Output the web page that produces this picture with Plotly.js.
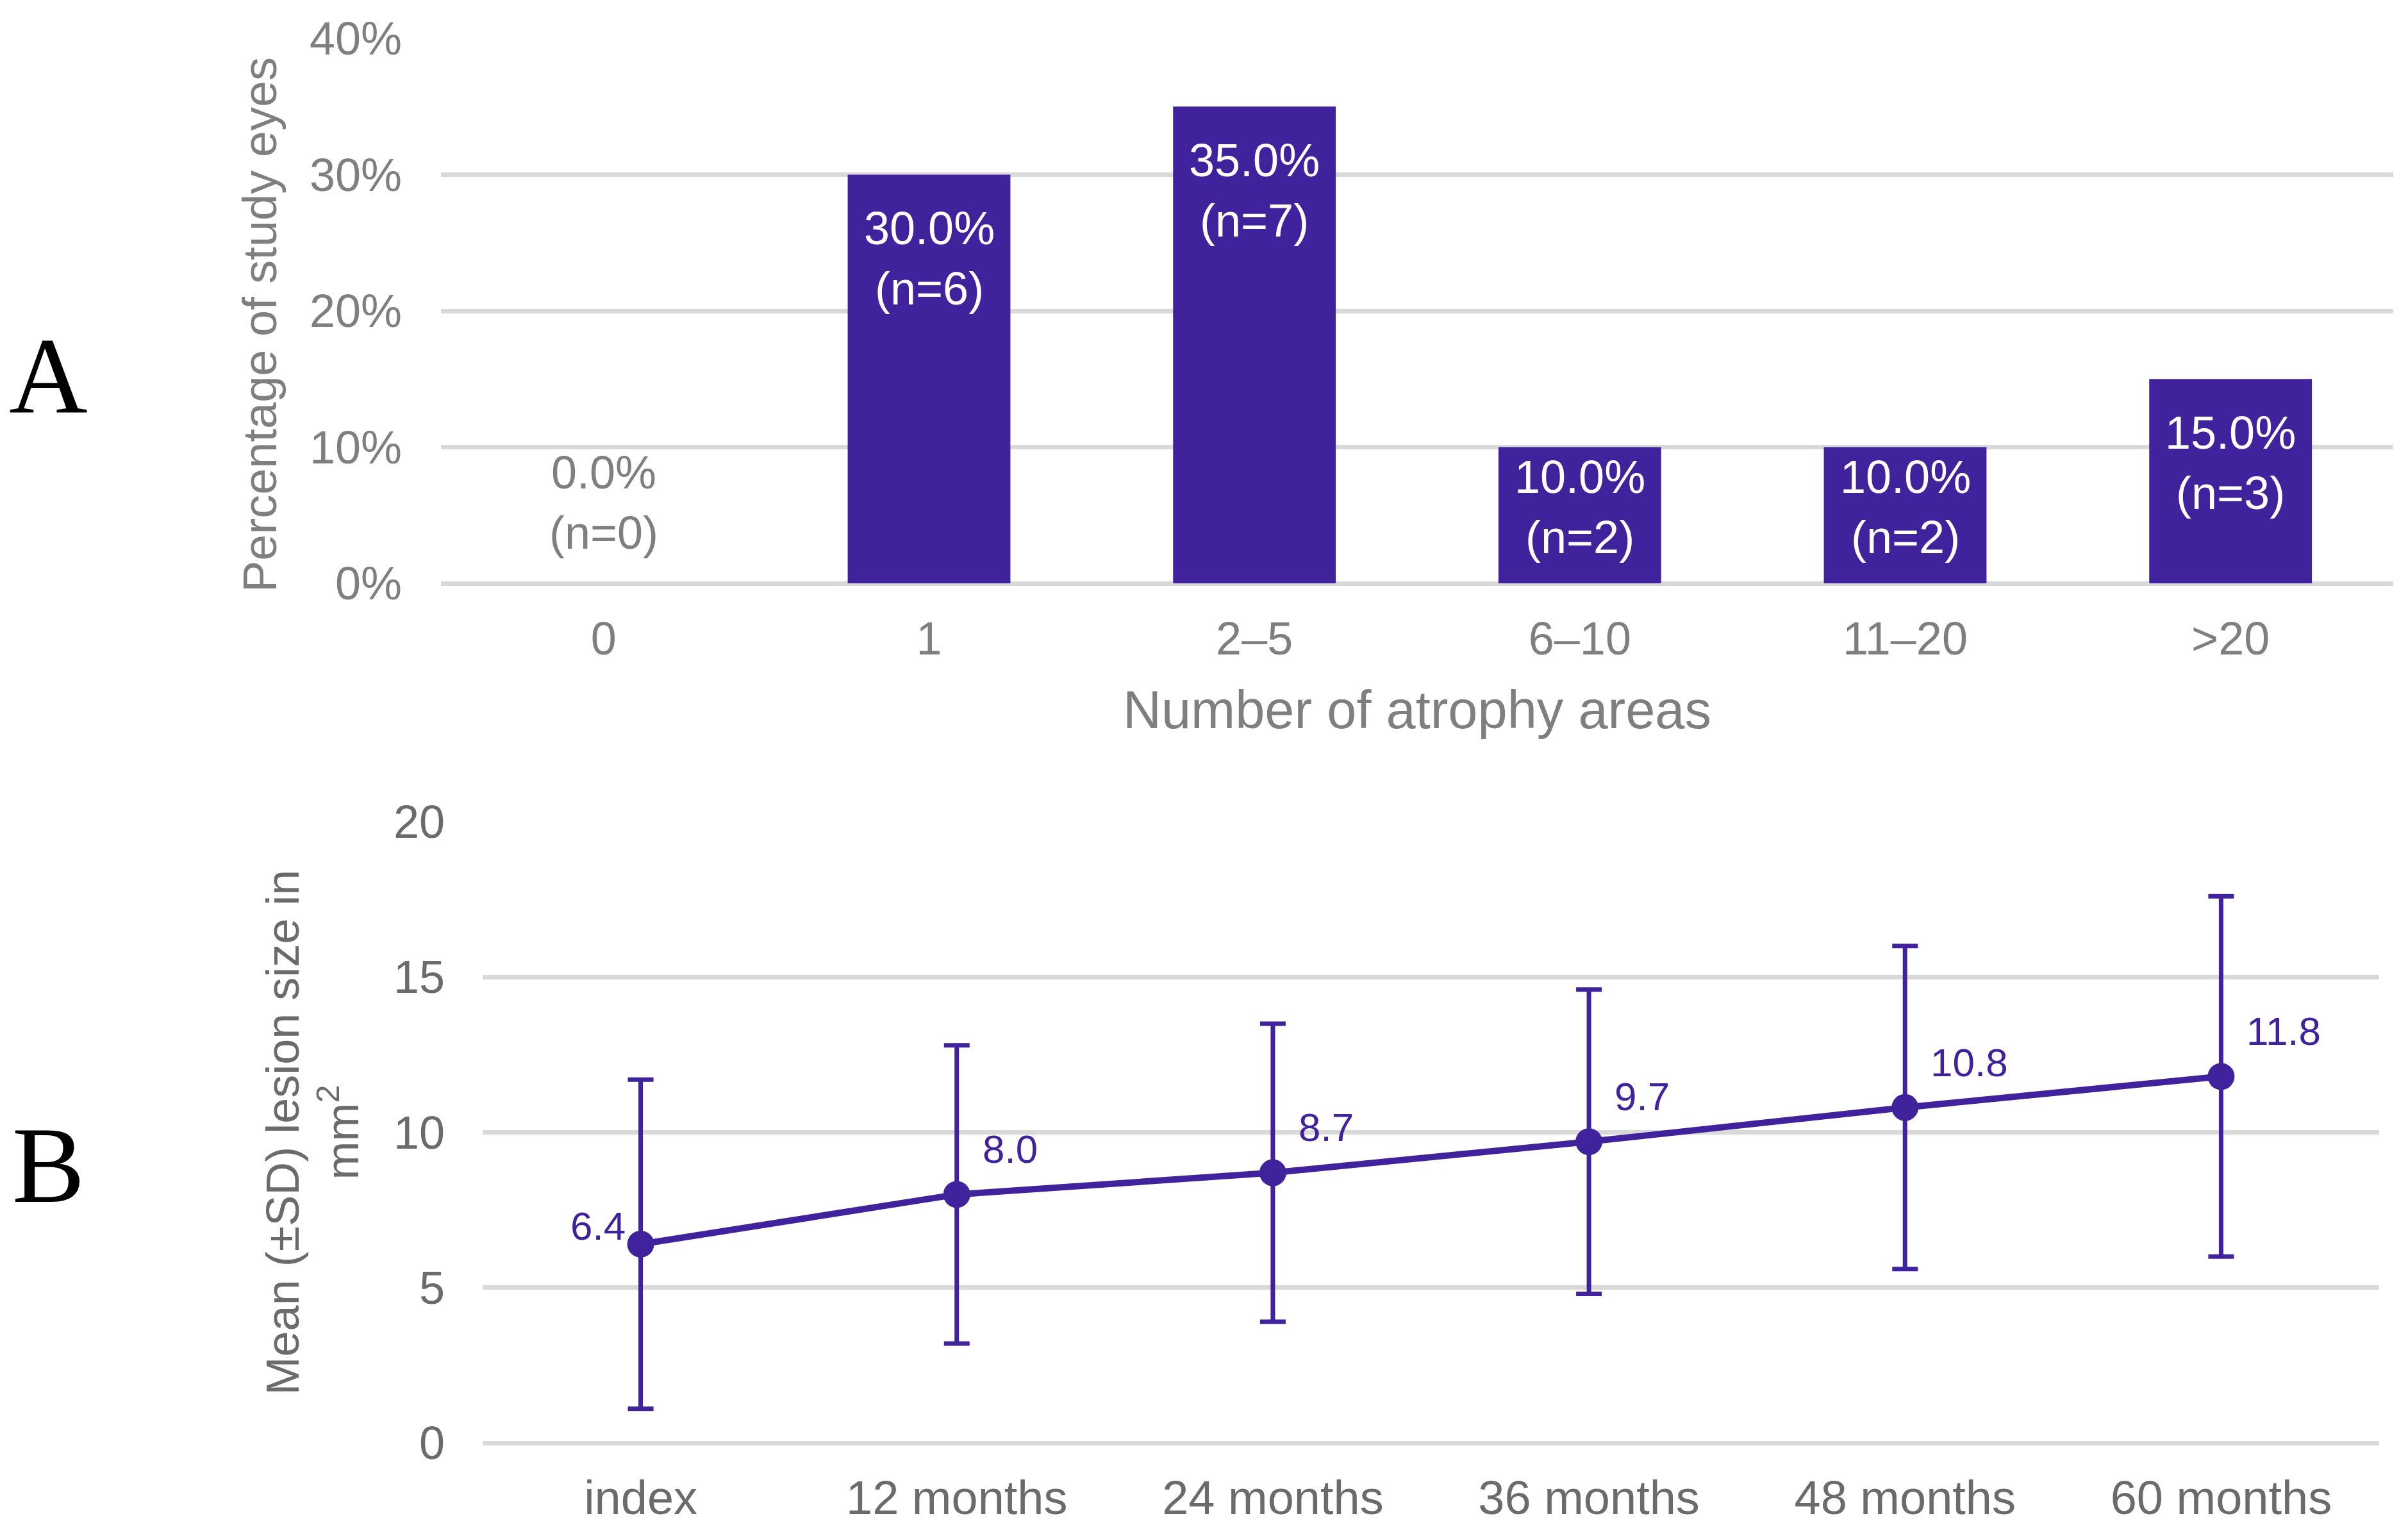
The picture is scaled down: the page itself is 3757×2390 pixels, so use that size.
<!DOCTYPE html>
<html>
<head>
<meta charset="utf-8">
<script src="https://cdn.plot.ly/plotly-3.0.1.min.js"></script>
<style>
  html, body { margin: 0; padding: 0; background: #ffffff; }
  #chart { width: 3757px; height: 2390px; }
</style>
</head>
<body>
<div id="chart"></div>
<script>
// ---- Panel A data ----
const areaCategories = ['0', '1', '2–5', '6–10', '11–20', '>20'];
const areaPercentages = [0.0, 30.0, 35.0, 10.0, 10.0, 15.0];
const areaCounts = [0, 6, 7, 2, 2, 3];

// ---- Panel B data ----
const timepoints = ['index', '12 months', '24 months', '36 months', '48 months', '60 months'];
const meanLesionSize = [6.4, 8.0, 8.7, 9.7, 10.8, 11.8];
const sdLesionSize = [5.3, 4.8, 4.8, 4.9, 5.2, 5.8];

const PURPLE = '#40239c';
const GRID = '#d9d9d9';
const GRAY_A = '#7f7f7f';
const GRAY_B = '#6b6b6b';
const FONT = 'Liberation Sans, Arial, sans-serif';

const W = 3757, H = 2390;
const domA = { x: [688 / W, 3734 / W], y: [(H - 910) / H, (H - 60) / H] };
const domB = { x: [753 / W, 3712 / W], y: [(H - 2251) / H, (H - 1282) / H] };
const rangeA = [0, 40];
const pxPerPctA = (domA.y[1] - domA.y[0]) * H / (rangeA[1] - rangeA[0]);

const barTrace = {
  type: 'bar',
  x: areaCategories,
  y: areaPercentages,
  marker: { color: PURPLE },
  xaxis: 'x', yaxis: 'y',
  hoverinfo: 'skip',
  showlegend: false
};

const lineTrace = {
  type: 'scatter',
  mode: 'lines+markers',
  x: timepoints,
  y: meanLesionSize,
  line: { color: PURPLE, width: 10 },
  marker: { color: PURPLE, size: 42 },
  error_y: { type: 'data', array: sdLesionSize, visible: true, color: PURPLE, thickness: 7, width: 20 },
  xaxis: 'x2', yaxis: 'y2',
  hoverinfo: 'skip',
  showlegend: false
};

const annotations = [];
// Bar labels
areaCategories.forEach((c, i) => {
  const v = areaPercentages[i];
  const txt = v.toFixed(1) + '%<br>(n=' + areaCounts[i] + ')';
  if (v === 0) {
    annotations.push({
      xref: 'x', yref: 'y', x: c, y: v, text: txt, showarrow: false,
      xanchor: 'center', yanchor: 'bottom', yshift: 37,
      font: { family: FONT, size: 72, color: GRAY_A }
    });
  } else {
    const barPx = v * pxPerPctA;
    const shift = barPx > 300 ? -42 : -5;
    annotations.push({
      xref: 'x', yref: 'y', x: c, y: v, text: txt, showarrow: false,
      xanchor: 'center', yanchor: 'top', yshift: shift,
      font: { family: FONT, size: 72, color: '#ffffff' }
    });
  }
});
// Line labels
timepoints.forEach((t, i) => {
  const first = i === 0;
  annotations.push({
    xref: 'x2', yref: 'y2', x: t, y: meanLesionSize[i],
    text: meanLesionSize[i].toFixed(1), showarrow: false,
    xanchor: first ? 'right' : 'left', yanchor: 'bottom',
    xshift: first ? -22 : 38, yshift: first ? -8 : 34,
    font: { family: FONT, size: 62, color: PURPLE }
  });
});
// Panel A y-axis title (placed as rotated text, slightly below the domain centre as in the reference)
annotations.push({
  xref: 'paper', yref: 'paper', x: 406 / W, y: (H - 507) / H,
  text: 'Percentage of study eyes', showarrow: false, textangle: -90,
  xanchor: 'center', yanchor: 'middle',
  font: { family: FONT, size: 74, color: GRAY_A }
});
// Panel letters
annotations.push({
  xref: 'paper', yref: 'paper', x: 75 / W, y: (H - 587) / H, text: 'A', showarrow: false,
  xanchor: 'center', yanchor: 'middle', font: { family: 'Liberation Serif, Times New Roman, serif', size: 170, color: '#000000' }
});
annotations.push({
  xref: 'paper', yref: 'paper', x: 75 / W, y: (H - 1818) / H, text: 'B', showarrow: false,
  xanchor: 'center', yanchor: 'middle', font: { family: 'Liberation Serif, Times New Roman, serif', size: 170, color: '#000000' }
});

const layout = {
  width: W, height: H,
  margin: { l: 0, r: 0, t: 0, b: 0, pad: 0 },
  paper_bgcolor: '#ffffff', plot_bgcolor: '#ffffff',
  bargap: 0.5,
  font: { family: FONT },
  xaxis: {
    domain: domA.x, anchor: 'y', type: 'category',
    range: [-0.5, 5.5], showgrid: false, zeroline: false, showline: false,
    ticks: '', ticklabelstandoff: 38,
    tickfont: { family: FONT, size: 72, color: GRAY_A },
    title: { text: 'Number of atrophy areas', standoff: 42, font: { family: FONT, size: 83, color: GRAY_A } },
    fixedrange: true
  },
  yaxis: {
    domain: domA.y, anchor: 'x',
    range: rangeA, dtick: 10, ticksuffix: '%',
    showgrid: true, gridcolor: GRID, gridwidth: 7,
    zeroline: true, zerolinecolor: GRID, zerolinewidth: 7, showline: false,
    ticks: '', ticklabelstandoff: 60,
    tickfont: { family: FONT, size: 72, color: GRAY_A },
    fixedrange: true
  },
  xaxis2: {
    domain: domB.x, anchor: 'y2', type: 'category',
    range: [-0.5, 5.5], showgrid: false, zeroline: false, showline: false,
    ticks: '', ticklabelstandoff: 36,
    tickfont: { family: FONT, size: 74, color: GRAY_B },
    fixedrange: true
  },
  yaxis2: {
    domain: domB.y, anchor: 'x2',
    range: [0, 20], dtick: 5,
    showgrid: true, gridcolor: GRID, gridwidth: 7,
    zeroline: true, zerolinecolor: GRID, zerolinewidth: 7, showline: false,
    ticks: '', ticklabelstandoff: 58,
    tickfont: { family: FONT, size: 72, color: GRAY_B },
    title: { text: 'Mean (±SD) lesion size in<br>mm<sup>2</sup>', standoff: 30, font: { family: FONT, size: 72, color: GRAY_B } },
    fixedrange: true
  },
  annotations: annotations
};

Plotly.newPlot('chart', [barTrace, lineTrace], layout, { staticPlot: true, displayModeBar: false });
</script>
</body>
</html>
